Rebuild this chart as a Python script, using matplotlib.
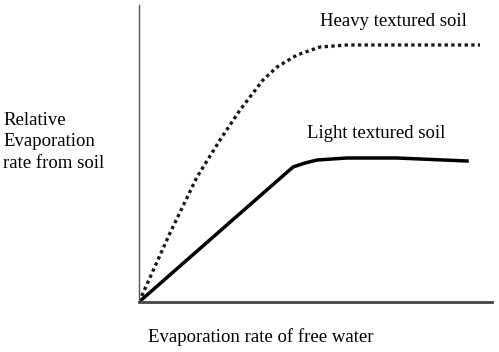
import matplotlib
matplotlib.use("Agg")
import matplotlib.pyplot as plt

heavy_x = [0, 31, 58, 81, 101, 124, 138, 158, 181, 208, 341]
heavy_y = [0, 69, 125, 162, 192, 222, 235, 247, 255, 257, 257]
light_x = [0, 154, 166, 178, 208, 258, 328]
light_y = [0, 135, 139, 142, 144, 144, 141]

plt.rcParams['font.family'] = ['Liberation Serif', 'DejaVu Serif']

fig = plt.figure(figsize=(4.99, 3.52), dpi=100)
ax = fig.add_axes([139/499, 50/352, 353/499, 297/352])
ax.plot(heavy_x, heavy_y, color='#1a1a1a', lw=2.4, linestyle=(0, (1, 1)), dash_capstyle='butt')
ax.plot(light_x, light_y, color='black', lw=2.5)
ax.set_xlim(0, 353)
ax.set_ylim(0, 297)
ax.set_xticks([])
ax.set_yticks([])
for s in ['top', 'right']:
    ax.spines[s].set_visible(False)
ax.spines['left'].set_color('#555555')
ax.spines['left'].set_linewidth(1.0)
ax.spines['bottom'].set_color('#444444')
ax.spines['bottom'].set_linewidth(2.0)

fs = 13.5
fig.text(320/499, 1 - 22/352, 'Heavy textured soil', fontsize=fs, va='center', ha='left')
fig.text(307/499, 1 - 133/352, 'Light textured soil', fontsize=fs, va='center', ha='left')
fig.text(3/499, 1 - 142/352, 'Relative\nEvaporation\nrate from soil', fontsize=fs, va='center', ha='left', linespacing=1.33)
fig.text(148/499, 1 - 337/352, 'Evaporation rate of free water', fontsize=fs, va='center', ha='left')

fig.savefig('out.png', dpi=100)
